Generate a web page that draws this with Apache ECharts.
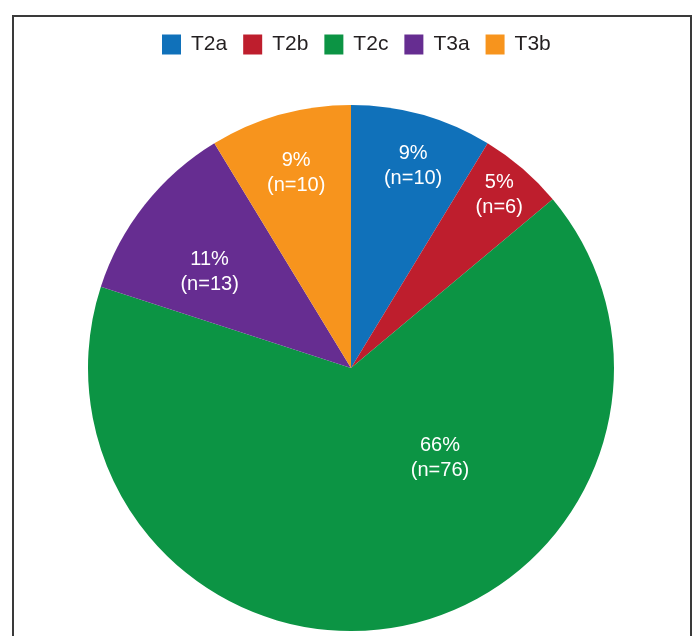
<!DOCTYPE html>
<html>
<head>
<meta charset="utf-8">
<title>T stage distribution</title>
<script src="https://cdn.jsdelivr.net/npm/echarts@6/dist/echarts.min.js"></script>
<style>
  html, body { margin: 0; padding: 0; background: #ffffff; }
  #chart { width: 694px; height: 636px; }
</style>
</head>
<body>
<div id="chart"></div>
<script>
// Patient counts per T stage
const categories = ['T2a', 'T2b', 'T2c', 'T3a', 'T3b'];
const counts = [10, 6, 76, 13, 10];

const colors = ['#1071BA', '#BE1E2D', '#0C9444', '#662D91', '#F7941D'];

// Label anchor for each slice: [angle clockwise from 12 o'clock in degrees, fraction of radius]
const labelAnchors = [
  [17.1, 0.803],
  [40.6, 0.866],
  [135.3, 0.481],
  [304.2, 0.650],
  [344.3, 0.770]
];

const pieCenter = [351, 368];
const pieRadius = 263;
const total = counts.reduce((a, b) => a + b, 0);

const chart = echarts.init(document.getElementById('chart'), null, { renderer: 'canvas' });

chart.setOption({
  animation: false,
  color: colors,
  graphic: [{
    type: 'rect',
    shape: { x: 13, y: 16, width: 678, height: 640 },
    style: { fill: 'none', stroke: '#3a3a3a', lineWidth: 2 },
    silent: true,
    z: 100
  }],
  legend: {
    data: categories,
    left: 162,
    top: 34,
    padding: 0,
    itemWidth: 19,
    itemHeight: 20,
    itemGap: 16,
    icon: 'rect',
    textStyle: {
      fontFamily: 'Liberation Sans, Arial, sans-serif',
      fontSize: 21,
      color: '#231F20',
      padding: [0, 0, 0, 5]
    },
    selectedMode: false
  },
  series: [{
    type: 'pie',
    center: pieCenter,
    radius: pieRadius,
    startAngle: 90,
    clockwise: true,
    avoidLabelOverlap: false,
    emphasis: { disabled: true },
    itemStyle: { borderWidth: 0 },
    labelLine: { show: false },
    label: {
      show: true,
      position: 'inside',
      color: '#ffffff',
      fontFamily: 'Liberation Sans, Arial, sans-serif',
      fontSize: 20,
      lineHeight: 25,
      align: 'center',
      formatter: (p) => Math.round(p.value / total * 100) + '%\n(n=' + p.value + ')'
    },
    labelLayout: (params) => {
      const a = labelAnchors[params.dataIndex];
      const ang = a[0] * Math.PI / 180;
      const r = a[1] * pieRadius;
      return {
        x: pieCenter[0] + r * Math.sin(ang),
        y: pieCenter[1] - r * Math.cos(ang),
        align: 'center',
        verticalAlign: 'middle'
      };
    },
    data: categories.map((name, i) => ({ name: name, value: counts[i] }))
  }]
});
</script>
</body>
</html>
